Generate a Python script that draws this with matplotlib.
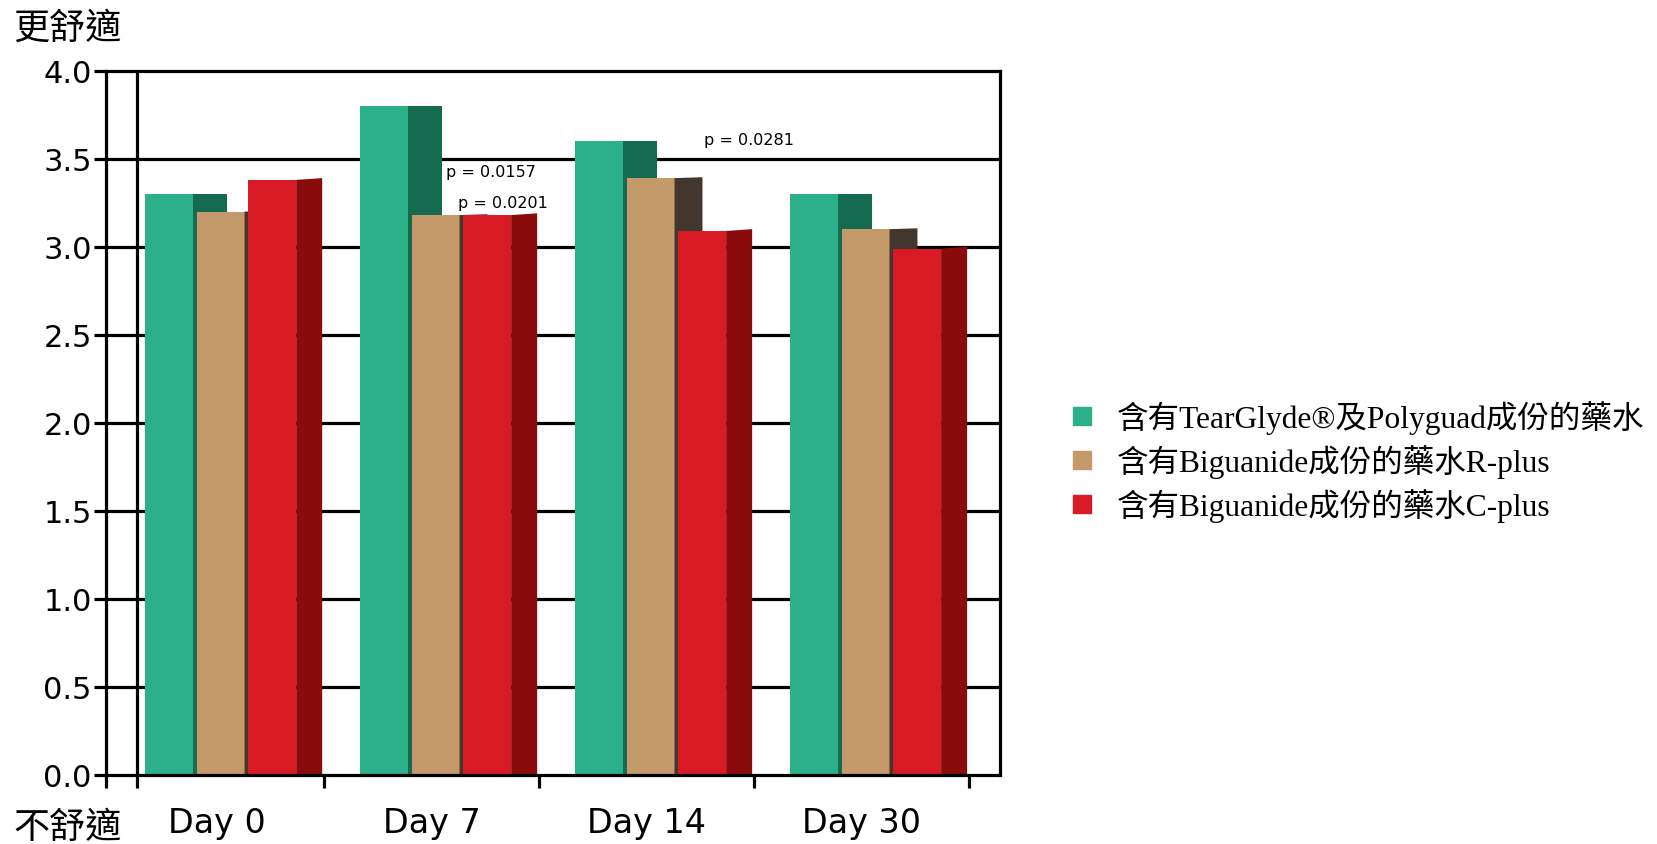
import matplotlib
matplotlib.use('Agg')
import matplotlib.pyplot as plt
from matplotlib.lines import Line2D

# data
days = ['Day 0', 'Day 7', 'Day 14', 'Day 30']
series_names = ['含有TearGlyde®及Polyguad成份的藥水',
                '含有Biguanide成份的藥水R-plus',
                '含有Biguanide成份的藥水C-plus']
tearglyde = [3.30, 3.80, 3.60, 3.30]
r_plus = [3.20, 3.18, 3.39, 3.10]
c_plus = [3.38, 3.18, 3.09, 2.99]
p_labels = ['p = 0.0157', 'p = 0.0201', 'p = 0.0281']

# styles / layout
front_colors = ['#2cb089', '#c49a6b', '#d81a24']
side_colors = ['#146b4f', '#43362f', '#8a0b0b']
side_widths = [0.158, 0.130, 0.121]
side_slant = [0.0, 0.005, 0.01]
front_w = 0.223
step = 0.240
first_off = -0.414
p_pos = [(0.985, 3.43), (1.04, 3.25), (2.185, 3.61)]

cjk = ['Noto Sans CJK TC', 'DejaVu Sans']
serif_cjk = ['Liberation Serif', 'Noto Sans CJK TC']

fig = plt.figure(figsize=(16.57, 8.45), dpi=100)
ax = fig.add_axes([105.7 / 1657, 1 - 776 / 845, 894.3 / 1657, 704.3 / 845])

lw = 2.3
xl = (-0.597, 3.563)
ax.set_xlim(*xl)
ax.set_ylim(0, 4.0)

for y in [0.5, 1.0, 1.5, 2.0, 2.5, 3.0, 3.5]:
    ax.axhline(y, color='black', lw=lw, zorder=1)
ax.axvline(-0.452, color='black', lw=lw, zorder=1)

all_vals = [tearglyde, r_plus, c_plus]
z = 2
for k, vals in enumerate(all_vals):
    lefts = [i + first_off + k * step for i in range(len(days))]
    ax.bar(lefts, vals, width=front_w, align='edge', color=front_colors[k],
           linewidth=0, zorder=z)
    for x0, v in zip(lefts, vals):
        xa = x0 + front_w
        xb = xa + side_widths[k]
        ax.fill([xa, xb, xb, xa], [0, 0, v + side_slant[k], v],
                color=side_colors[k], linewidth=0, zorder=z + 1)
    z += 2

for (px, py), t in zip(p_pos, p_labels):
    ax.text(px, py, t, fontsize=11.5, family='DejaVu Sans', va='center',
            ha='left', zorder=10)

for s in ax.spines.values():
    s.set_linewidth(lw)
    s.set_zorder(12)

ax.set_yticks([0, 0.5, 1.0, 1.5, 2.0, 2.5, 3.0, 3.5, 4.0])
ax.set_yticklabels(['0.0', '0.5', '1.0', '1.5', '2.0', '2.5', '3.0', '3.5', '4.0'])
ax.tick_params(axis='y', direction='out', length=9, width=lw, pad=1,
               labelsize=22)

ax.set_xticks([xl[0], -0.452, 0.42, 1.42, 2.42, 3.42])
ax.set_xticklabels([])
ax.set_xticks([i - 0.08 for i in range(len(days))], minor=True)
ax.set_xticklabels(days, minor=True)
ax.tick_params(axis='x', which='major', direction='out', length=9, width=lw)
ax.tick_params(axis='x', which='minor', length=0, pad=22, labelsize=24)

fig.text(13 / 1657, 1 - 28.5 / 845, '更舒適', fontsize=26, family=cjk,
         va='center', ha='left')
fig.text(13 / 1657, 1 - 828 / 845, '不舒適', fontsize=26, family=cjk,
         va='center', ha='left')

handles = [Line2D([], [], marker='s', linestyle='none', markersize=13.5,
                  markerfacecolor=c, markeredgecolor=c) for c in front_colors]
fig.legend(handles, series_names, loc='center left',
           bbox_to_anchor=(1038 / 1657, 1 - 462 / 845), frameon=False,
           prop={'family': serif_cjk, 'size': 22.7}, handletextpad=0.6,
           labelspacing=0.33, handlelength=1.0)

fig.savefig('out.png', dpi=100)
